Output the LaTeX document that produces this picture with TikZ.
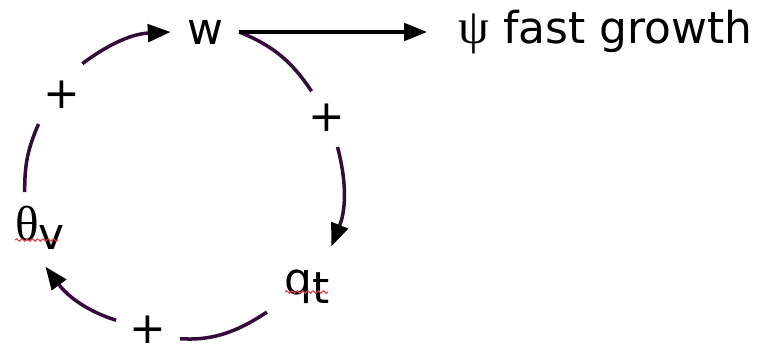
\documentclass[tikz,border=0pt]{standalone}
\usepackage{fontspec}
\setmainfont{DejaVu Sans}
\newfontfamily\greekfont{Liberation Serif}
\usepackage{tikz}
\usetikzlibrary{arrows.meta, decorations.pathmorphing}
\definecolor{loopline}{RGB}{52,12,58}
\definecolor{spellred}{RGB}{225,60,70}

\begin{document}
\begin{tikzpicture}[x=0.02cm, y=-0.02cm,
  % round nodes without outline, so the arcs start and stop on their rim
  varnode/.style={circle, inner sep=0pt, font=\fontsize{25}{30}\selectfont},
  plusnode/.style={circle, inner sep=0pt, minimum size=1.22cm,
                   font=\fontsize{25}{30}\selectfont},
  link/.style={draw=loopline, line width=2pt},
  linkarr/.style={link, -{Triangle[length=13pt, width=10pt, color=black]}},
  flow/.style={line width=2pt, -{Triangle[length=13pt, width=10pt]}},
  squig/.style={draw=spellred, line width=0.6pt, decorate,
                decoration={snake, amplitude=0.7pt, segment length=3pt}}
]
\useasboundingbox (0,0) rectangle (775,355);

% Variables on the loop
\node[varnode, minimum size=1.36cm] (w)   at (205,32)  {w};
\node[varnode, minimum size=1.55cm] (thv) at (40,228)  {{\greekfont\fontsize{28}{30}\selectfont θ}\raisebox{-0.2em}{v}};
\node[varnode, minimum size=1.88cm] (qt)  at (307,287) {q\raisebox{-0.2em}{t}};

% Output
\node[varnode, anchor=west, rectangle, inner xsep=0.62cm] (psi) at (427,32)
    {{\greekfont\fontsize{28}{30}\selectfont ψ} fast growth};

% Signs
\node[plusnode, minimum size=1.48cm] (p1) at (62,95)   {+};
\node[plusnode]                      (p2) at (327,118) {+};
\node[plusnode, minimum size=0.8cm]  (p3) at (148,330) {+};

% Loop
\draw[link]    (thv.113) to[bend left=12] (p1.231);
\draw[linkarr] (p1.57)   to[bend left=17] (w.180);
\draw[link]    (w.0)     to[bend left=17] (p2.120);
\draw[linkarr] (p2.-70)  to[bend left=18] (qt.59);
\draw[link, shorten >=0.2cm]    (qt.212) to[bend left=19] (p3.-20);
\draw[linkarr, shorten <=0.2cm] (p3.163) to[bend left=18] (thv.-82);

\draw[flow] (w) -- (psi);

% spell-check marks
\draw[squig] (15,240) -- (58,240);
\draw[squig] (285,292) -- (328,292);

\end{tikzpicture}
\end{document}
